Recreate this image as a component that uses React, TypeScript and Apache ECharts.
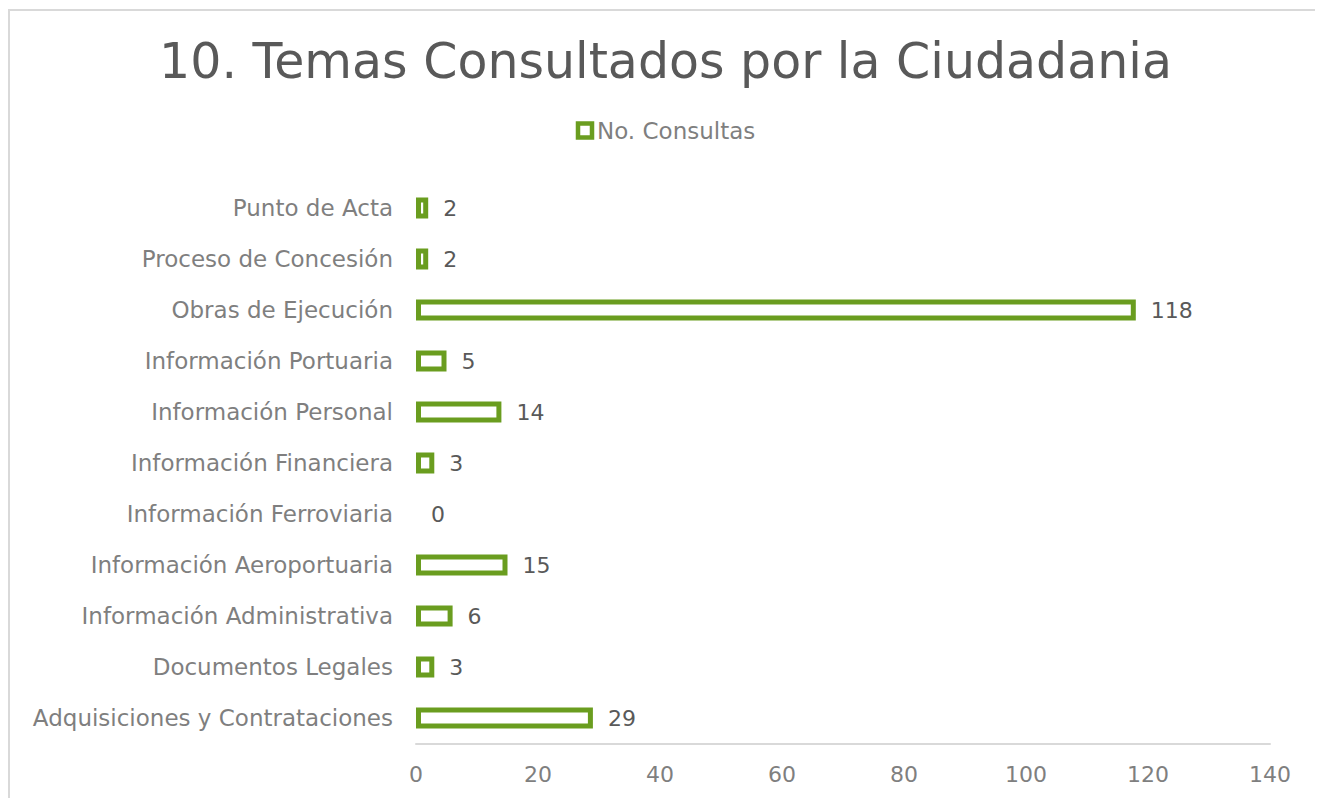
import React, { useEffect, useRef } from "react";
import * as echarts from "echarts";

const titleText = "10. Temas Consultados por la Ciudadania";
const seriesName = "No. Consultas";
const categories = [
  "Adquisiciones y Contrataciones",
  "Documentos Legales",
  "Información Administrativa",
  "Información Aeroportuaria",
  "Información Ferroviaria",
  "Información Financiera",
  "Información Personal",
  "Información Portuaria",
  "Obras de Ejecución",
  "Proceso de Concesión",
  "Punto de Acta",
];
const values = [29, 3, 6, 15, 0, 3, 14, 5, 118, 2, 2];
const xMin = 0;
const xMax = 140;
const xInterval = 20;

const GREEN = "#6a9d1f";
const FONT = "'DejaVu Sans', sans-serif";

export default function App() {
  const ref = useRef<HTMLDivElement>(null);
  useEffect(() => {
    if (!ref.current) return;
    const chart = echarts.init(ref.current, null, { renderer: "svg" });
    const seriesData = values.map((v) =>
      v === 0 ? { value: v, itemStyle: { borderWidth: 0 } } : v
    );
    chart.setOption({
      animation: false,
      backgroundColor: "#ffffff",
      title: {
        text: titleText,
        left: "center",
        top: 24,
        textStyle: {
          color: "#595959",
          fontSize: 49,
          fontWeight: "normal",
          fontFamily: FONT,
        },
      },
      legend: {
        data: [{ name: seriesName, icon: "rect" }],
        top: 106,
        left: "center",
        itemWidth: 14,
        itemHeight: 14,
        itemGap: 5,
        itemStyle: { color: "#ffffff", borderColor: GREEN, borderWidth: 4.5 },
        textStyle: { color: "#7f7f7f", fontSize: 23, fontFamily: FONT },
      },
      grid: { left: 408, top: 174.5, width: 854, height: 561, containLabel: false },
      xAxis: {
        type: "value",
        min: xMin,
        max: xMax,
        interval: xInterval,
        axisLine: { show: true, lineStyle: { color: "#d9d9d9", width: 2 } },
        axisTick: { show: false },
        splitLine: { show: false },
        axisLabel: { color: "#7f7f7f", fontSize: 22, fontFamily: FONT, margin: 20 },
      },
      yAxis: {
        type: "category",
        data: categories,
        axisLine: { show: false },
        axisTick: { show: false },
        splitLine: { show: false },
        axisLabel: { color: "#7f7f7f", fontSize: 23, fontFamily: FONT, margin: 23 },
      },
      series: [
        {
          name: seriesName,
          type: "bar",
          data: seriesData,
          barWidth: 21,
          itemStyle: { color: "#ffffff", borderColor: GREEN, borderWidth: 5 },
          label: {
            show: true,
            position: "right",
            distance: 15,
            color: "#595959",
            fontSize: 22,
            fontFamily: FONT,
          },
        },
      ],
      graphic: [
        {
          type: "rect",
          shape: { x: 1, y: 2, width: 1312, height: 820 },
          style: { fill: "none", stroke: "#d9d9d9", lineWidth: 2 },
          silent: true,
        },
      ],
    });
    return () => chart.dispose();
  }, []);
  return <div ref={ref} style={{ width: 1315, height: 800 }} />;
}
